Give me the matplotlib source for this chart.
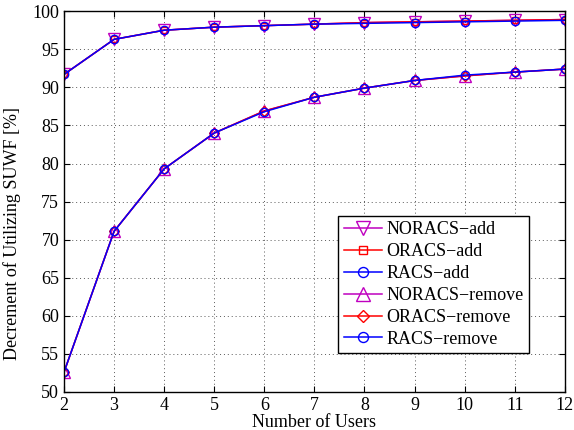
import matplotlib
matplotlib.use("Agg")
import matplotlib.pyplot as plt
import numpy as np

users = [2, 3, 4, 5, 6, 7, 8, 9, 10, 11, 12]
noracs_add = [91.7, 96.3, 97.5, 97.9, 98.1, 98.3, 98.5, 98.6, 98.7, 98.8, 98.9]
oracs_add = [91.7, 96.3, 97.5, 97.9, 98.1, 98.3, 98.5, 98.6, 98.7, 98.8, 98.9]
racs_add = [91.7, 96.3, 97.5, 97.9, 98.1, 98.3, 98.4, 98.5, 98.6, 98.7, 98.8]
noracs_rem = [52.6, 71.1, 79.3, 84.0, 86.9, 88.7, 89.9, 90.9, 91.5, 92.0, 92.4]
oracs_rem = [52.6, 71.1, 79.3, 84.0, 86.9, 88.7, 89.9, 90.9, 91.5, 92.0, 92.4]
racs_rem = [52.6, 71.1, 79.3, 84.0, 86.8, 88.7, 89.9, 90.9, 91.6, 92.0, 92.4]
labels = ["NORACS\u2212add", "ORACS\u2212add", "RACS\u2212add",
          "NORACS\u2212remove", "ORACS\u2212remove", "RACS\u2212remove"]

plt.rcParams['font.family'] = ['Liberation Serif', 'DejaVu Serif']

fig = plt.figure(figsize=(5.74, 4.30), dpi=100)
ax = fig.add_axes([0.1115, 0.0884, 0.8725, 0.8856])

mag = (0.75, 0.0, 0.75)
series = [
    (noracs_add, mag, 'v', 8),
    (oracs_add, 'red', 's', 5),
    (racs_add, 'blue', 'o', 6),
    (noracs_rem, mag, '^', 8),
    (oracs_rem, 'red', 'D', 5.5),
    (racs_rem, 'blue', 'o', 6),
]
for (vals, c, m, ms), lab in zip(series, labels):
    ax.plot(users, vals, color=c, marker=m, markersize=ms, markerfacecolor='none',
            markeredgecolor=c, markeredgewidth=1.0, linewidth=1.1, label=lab)

ax.set_xlim(2, 12)
ax.set_ylim(50, 100)
ax.set_xticks(range(2, 13))
ax.set_yticks(range(50, 101, 5))
ax.grid(True, linestyle=(0, (1, 3)), color='0.35', linewidth=0.7)
ax.tick_params(direction='in', top=True, right=True, labelsize=13, length=4)
for s in ax.spines.values():
    s.set_linewidth(1.0)
ax.set_xlabel("Number of Users", fontsize=13, labelpad=0)
ax.set_ylabel("Decrement of Utilizing SUWF [%]", fontsize=13)
ax.yaxis.set_label_coords(-0.086, 0.415)

leg = ax.legend(loc='lower right', bbox_to_anchor=(0.928, 0.102), fontsize=13,
                fancybox=False, edgecolor='black', framealpha=1,
                borderpad=0.3, labelspacing=0.27, handlelength=2.1,
                handletextpad=0.25, borderaxespad=0, markerscale=1.2)
leg.get_frame().set_linewidth(1.0)

fig.savefig("out.png", dpi=100)
